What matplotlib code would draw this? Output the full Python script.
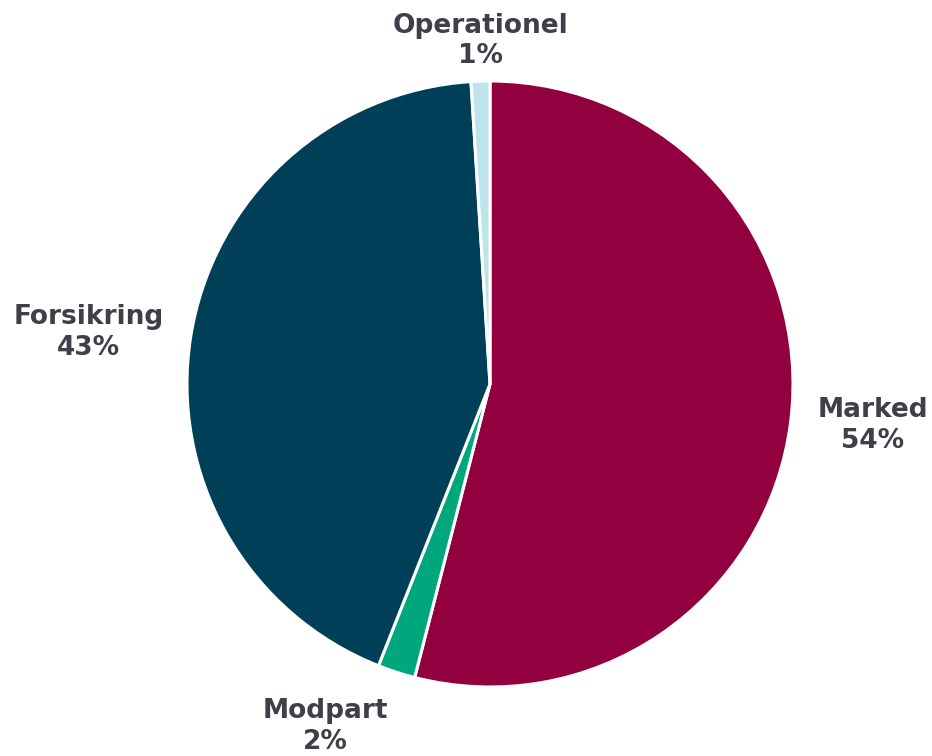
import numpy as np
import matplotlib
matplotlib.use('Agg')
import matplotlib.pyplot as plt

# Risk categories and their shares (%)
labels = ['Marked', 'Modpart', 'Forsikring', 'Operationel']
shares = [54, 2, 43, 1]
colors = ['#93003F', '#00A77E', '#003F58', '#BFE3EA']

fig = plt.figure(figsize=(9.32, 7.56), dpi=100)
ax = fig.add_axes([187 / 932, (756 - 687) / 756, 606 / 932, 606 / 756])

wedges, _ = ax.pie(shares, colors=colors, startangle=90, counterclock=False,
                   radius=1, wedgeprops={'edgecolor': 'white', 'linewidth': 2.2})
ax.set_xlim(-1, 1)
ax.set_ylim(-1, 1)
ax.set_aspect('equal')
ax.axis('off')

# Place the labels just outside each wedge
for w, lab, val in zip(wedges, labels, shares):
    mid = np.deg2rad((w.theta1 + w.theta2) / 2)
    c, s = np.cos(mid), np.sin(mid)
    r = 1.09
    ha = 'left' if c > 0.3 else ('right' if c < -0.3 else 'center')
    va = 'bottom' if s > 0.3 else ('top' if s < -0.3 else 'center')
    if va == 'bottom':
        r = 1.04
    ax.text(r * c, r * s, f'{lab}\n{val}%', ha=ha, va=va, multialignment='center',
            fontsize=19, fontweight='bold', color='#3F3F4A',
            family='DejaVu Sans', linespacing=1.22, clip_on=False)

fig.savefig('out.png', dpi=100)
